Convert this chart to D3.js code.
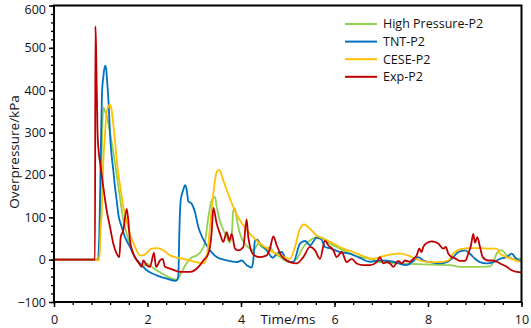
<!DOCTYPE html>
<html><head><meta charset="utf-8">
<script src="https://cdn.jsdelivr.net/npm/d3@7"></script>
<style>body{margin:0;background:#fff}svg{display:block}text{font-family:"Open Sans",sans-serif;fill:#111}</style>
</head><body><svg id="c" width="531" height="328"></svg>
<script>
const seriesNames = ["High Pressure-P2","TNT-P2","CESE-P2","Exp-P2"];
const seriesColors = ["#92D050","#0070C0","#FFC000","#C00000"];
const xTicks = [0,2,4,6,8,10];
const yTicks = [-100,0,100,200,300,400,500,600];

const green = [[0,0],[0.95,0],[0.98,30],[1.00,150],[1.03,300],[1.055,360],[1.09,350],[1.13,340],[1.198,300],[1.268,255],[1.341,200],[1.412,145],[1.482,95],[1.555,62],[1.626,34],[1.733,6],[1.840,-11],[1.910,-16],[1.983,-9],[2.090,-17],[2.267,-30],[2.481,-43],[2.625,-47],[2.731,-29],[2.838,-8],[2.945,5],[3.052,10],[3.159,22],[3.230,42],[3.301,100],[3.373,140],[3.444,148],[3.480,125],[3.515,106],[3.621,70],[3.694,55],[3.765,40],[3.801,57],[3.835,116],[3.872,121],[3.908,97],[3.979,61],[4.049,43],[4.156,29],[4.263,22],[4.370,38],[4.443,30],[4.550,26],[4.620,30],[4.691,18],[4.834,6],[5.048,-6],[5.191,2],[5.333,30],[5.476,45],[5.619,53],[5.761,50],[5.904,38],[6.118,26],[6.332,14],[6.545,6],[6.759,2],[6.973,-6],[7.401,-9],[7.90,-11],[8.471,-13],[8.685,-17],[9.112,-17],[9.326,-16],[9.397,-6],[9.469,14],[9.525,22],[9.58,22],[9.683,10],[9.825,2],[10,2]];
const blue = [[0,0],[0.93,0],[0.97,60],[1.00,250],[1.03,400],[1.055,431],[1.091,458],[1.115,452],[1.140,415],[1.161,383],[1.183,336],[1.198,297],[1.234,245],[1.268,211],[1.305,171],[1.341,140],[1.375,108],[1.448,77],[1.519,53],[1.626,30],[1.733,6],[1.840,-9],[1.983,-25],[2.197,-37],[2.411,-45],[2.610,-50],[2.659,-40],[2.680,60],[2.710,140],[2.766,165],[2.802,176],[2.838,165],[2.873,138],[2.945,132],[3.016,112],[3.087,77],[3.194,48],[3.337,22],[3.480,6],[3.694,-2],[3.908,-6],[4.015,-2],[4.122,-13],[4.229,-19],[4.263,-2],[4.299,45],[4.348,47],[4.406,38],[4.550,22],[4.657,6],[4.691,5],[4.764,14],[4.871,18],[4.977,-2],[5.119,-6],[5.262,38],[5.369,44],[5.476,34],[5.619,52],[5.72,48],[5.797,30],[5.904,27],[6.118,18],[6.332,14],[6.545,4],[6.759,-5],[6.973,-2],[7.258,-5],[7.544,-13],[7.686,-3],[7.792,6],[7.900,-2],[8.043,-6],[8.257,-9],[8.400,-6],[8.541,6],[8.648,18],[8.791,22],[8.898,14],[9.005,2],[9.112,-6],[9.255,-9],[9.397,-6],[9.540,2],[9.683,6],[9.790,14],[9.861,6],[9.953,-2],[10,-2]];
const yellow = [[0,0],[0.94,0],[0.96,-2],[0.984,30],[1.00,80],[1.020,108],[1.042,190],[1.055,230],[1.091,297],[1.13,350],[1.198,366],[1.23,355],[1.268,320],[1.305,280],[1.341,236],[1.412,176],[1.482,125],[1.555,90],[1.626,60],[1.733,30],[1.840,10],[1.910,10],[1.983,16],[2.090,26],[2.197,27],[2.338,22],[2.481,10],[2.625,5],[2.766,2],[2.909,-2],[3.052,-6],[3.194,-9],[3.266,6],[3.337,77],[3.408,156],[3.480,207],[3.536,212],[3.621,187],[3.765,144],[3.908,106],[4.049,81],[4.193,61],[4.263,53],[4.406,38],[4.620,22],[4.834,10],[5.048,2],[5.155,30],[5.262,73],[5.348,83],[5.476,73],[5.619,57],[5.761,50],[5.975,38],[6.188,26],[6.402,18],[6.616,8],[6.830,2],[6.973,6],[7.187,12],[7.401,14],[7.615,8],[7.829,-2],[8.043,-6],[8.257,-6],[8.434,-2],[8.541,14],[8.685,24],[8.898,27],[9.112,27],[9.326,26],[9.469,26],[9.540,14],[9.683,6],[9.825,0],[10,-6]];
const red = [[0,0],[0.86,0],[0.877,0],[0.885,551],[0.90,500],[0.93,305],[0.96,250],[0.99,226],[1.055,171],[1.127,116],[1.198,77],[1.268,38],[1.341,14],[1.397,6],[1.427,53],[1.482,69],[1.555,120],[1.589,93],[1.626,45],[1.696,14],[1.803,-6],[1.876,-17],[1.910,-2],[1.983,-13],[2.053,-17],[2.139,16],[2.182,-17],[2.267,-2],[2.325,2],[2.374,-17],[2.481,-21],[2.70,-29],[2.909,-29],[3.123,-13],[3.194,-2],[3.301,14],[3.337,30],[3.373,65],[3.408,122],[3.480,85],[3.551,61],[3.621,42],[3.694,65],[3.750,45],[3.801,61],[3.872,26],[3.942,22],[4.049,30],[4.120,95],[4.156,53],[4.263,12],[4.406,6],[4.550,10],[4.620,26],[4.691,55],[4.764,34],[4.871,8],[5.048,-6],[5.191,-9],[5.333,6],[5.476,30],[5.583,22],[5.690,2],[5.797,45],[5.867,34],[5.975,22],[6.047,6],[6.154,18],[6.261,-6],[6.368,2],[6.475,-9],[6.616,-13],[6.759,-13],[6.903,-6],[6.973,6],[7.044,-9],[7.115,-6],[7.187,-9],[7.258,-17],[7.365,-3],[7.437,-9],[7.508,-2],[7.615,-5],[7.686,2],[7.758,10],[7.814,26],[7.86,18],[7.900,30],[7.972,39],[8.079,43],[8.220,38],[8.327,26],[8.38,30],[8.434,14],[8.507,6],[8.58,3],[8.685,-3],[8.791,-3],[8.862,14],[8.920,34],[8.969,61],[9.005,40],[9.055,53],[9.112,30],[9.170,6],[9.290,-2],[9.397,-2],[9.540,-9],[9.683,-17],[9.790,-25],[9.897,-29],[10,-30]];
const allSeries = [green, blue, yellow, red];

const L=54, R=521.5, T=5.5, B=302;
const svg = d3.select("#c");
const x = d3.scaleLinear().domain([0,10]).range([L,R]);
const y = d3.scaleLinear().domain([-100,600]).range([B,T]);

// minor ticks
const xMinor = d3.range(0,10.001,0.4);
const yMinor = d3.range(-100,600.001,20);
svg.append("g").attr("transform",`translate(0,${B})`)
  .call(d3.axisBottom(x).tickValues(xMinor).tickSize(3).tickFormat(""))
  .call(g=>g.select(".domain").remove())
  .call(g=>g.selectAll("line").attr("stroke","#000").attr("stroke-width",1.3));
svg.append("g").attr("transform",`translate(${L},0)`)
  .call(d3.axisLeft(y).tickValues(yMinor).tickSize(3).tickFormat(""))
  .call(g=>g.select(".domain").remove())
  .call(g=>g.selectAll("line").attr("stroke","#000").attr("stroke-width",1.3));

const xa = svg.append("g").attr("transform",`translate(0,${B})`)
  .call(d3.axisBottom(x).tickValues(xTicks).tickSize(5).tickPadding(8).tickFormat(d3.format("d")));
xa.select(".domain").remove();
xa.selectAll("line").attr("stroke","#000").attr("stroke-width",1.5);
xa.selectAll("text").attr("font-size",12.5).attr("fill","#111").style("font-family","'Open Sans',sans-serif");
const ya = svg.append("g").attr("transform",`translate(${L},0)`)
  .call(d3.axisLeft(y).tickValues(yTicks).tickSize(5).tickPadding(3).tickFormat(d3.format("d")));
ya.select(".domain").remove();
ya.selectAll("line").attr("stroke","#000").attr("stroke-width",1.5);
ya.selectAll("text").attr("font-size",12.5).attr("fill","#111").style("font-family","'Open Sans',sans-serif")
  .attr("dy", d => d === 600 ? "0.62em" : "0.32em");

// lines
const line = d3.line().x(d=>x(d[0])).y(d=>y(d[1])).curve(d3.curveMonotoneX);
svg.append("defs").append("clipPath").attr("id","clip").append("rect")
  .attr("x",L).attr("y",T).attr("width",R-L).attr("height",B-T);
const lg = svg.append("g").attr("clip-path","url(#clip)");
allSeries.forEach((s,i)=>{
  lg.append("path").datum(s).attr("d",line).attr("fill","none")
    .attr("stroke",seriesColors[i]).attr("stroke-width",1.8).attr("stroke-linejoin","round");
});

// frame
svg.append("rect").attr("x",L).attr("y",T).attr("width",R-L).attr("height",B-T)
  .attr("fill","none").attr("stroke","#000").attr("stroke-width",2);

// axis titles
svg.append("text").attr("x",288).attr("y",323.5).attr("text-anchor","middle")
  .attr("font-size",13.5).text("Time/ms");
svg.append("text").attr("transform",`translate(19,152) rotate(-90)`).attr("text-anchor","middle")
  .attr("font-size",13.5).text("Overpressure/kPa");

// legend
const leg = svg.append("g");
seriesNames.forEach((n,i)=>{
  const yy = 24 + i*17.6;
  leg.append("line").attr("x1",345).attr("x2",377).attr("y1",yy).attr("y2",yy)
    .attr("stroke",seriesColors[i]).attr("stroke-width",2);
  leg.append("text").attr("x",383).attr("y",yy).attr("dy","0.35em").attr("font-size",12.5).text(n);
});
</script></body></html>
